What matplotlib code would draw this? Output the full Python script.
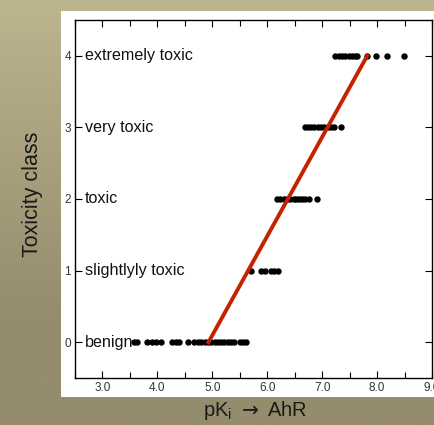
import numpy as np
import matplotlib
matplotlib.use("Agg")
from matplotlib import pyplot as plt
from matplotlib.patches import Rectangle
from matplotlib.ticker import MultipleLocator

plt.rcParams['font.family'] = ['Liberation Sans', 'DejaVu Sans']

# pK_i values per toxicity class
benign = [3.57, 3.62, 3.82, 3.90, 3.97, 4.07, 4.27, 4.33, 4.40, 4.55, 4.67,
          4.74, 4.80, 4.86, 4.92, 4.98, 5.04, 5.10, 5.16, 5.22, 5.28, 5.34,
          5.40, 5.50, 5.56, 5.62]
slightly_toxic = [5.71, 5.89, 5.96, 6.07, 6.13, 6.19]
toxic = [6.18, 6.24, 6.30, 6.36, 6.42, 6.48, 6.53, 6.58, 6.63, 6.68, 6.76, 6.91]
very_toxic = [6.68, 6.74, 6.80, 6.86, 6.92, 6.98, 7.04, 7.10, 7.16, 7.22, 7.35]
extremely_toxic = [7.24, 7.30, 7.36, 7.42, 7.48, 7.54, 7.60, 7.64, 7.82, 7.98, 8.18, 8.49]

groups = [benign, slightly_toxic, toxic, very_toxic, extremely_toxic]
class_names = ["benign", "slightlyly toxic", "toxic", "very toxic", "extremely toxic"]
fit_x = [4.93, 7.82]
fit_y = [0, 4]

fig = plt.figure(figsize=(4.35, 4.25), dpi=100)

# background gradient
bg = fig.add_axes([0, 0, 1, 1], zorder=-10)
grad = np.linspace(0, 1, 256).reshape(-1, 1)
top = np.array([188, 181, 142]) / 255
bot = np.array([148, 140, 108]) / 255
t = np.clip(grad / 0.75, 0, 1)
img = top * (1 - t[..., None]) + bot * t[..., None]
img = np.repeat(img, 2, axis=1)
bg.imshow(img, aspect='auto', extent=[0, 1, 0, 1], origin='upper')
bg.axis('off')

# white panel
fig.patches.append(Rectangle((61 / 435, 1 - 397 / 425), 1.0, 386 / 425,
                             transform=fig.transFigure, facecolor='white',
                             edgecolor='none', zorder=-5))

ax = fig.add_axes([75 / 435, 1 - 378 / 425, 357 / 435, 358 / 425])
ax.set_facecolor('white')

for k, xs in enumerate(groups):
    ax.plot(xs, [k] * len(xs), 'o', color='black', markersize=3.6, zorder=3)
    ax.text(2.68, k, class_names[k], va='center', ha='left', fontsize=11.6,
            color='#111111')

ax.plot(fit_x, fit_y, color='#c42300', linewidth=2.8, zorder=4)

ax.set_xlim(2.5, 9.0)
ax.set_ylim(-0.5, 4.5)
ax.xaxis.set_minor_locator(MultipleLocator(0.5))
ax.set_xticks([3, 4, 5, 6, 7, 8, 9])
ax.set_xticklabels(["3.0", "4.0", "5.0", "6.0", "7.0", "8.0", "9.0"])
ax.set_yticks([0, 1, 2, 3, 4])
ax.tick_params(axis='both', which='both', direction='in', top=True, right=True,
               labelsize=8.5, labelcolor='#333333', width=0.8)
ax.tick_params(axis='both', which='major', length=5)
ax.tick_params(axis='both', which='minor', length=4)
ax.tick_params(axis='y', pad=3)
ax.tick_params(axis='x', pad=3)
for s in ax.spines.values():
    s.set_linewidth(1.0)

fig.text(33 / 435, 1 - 194 / 425, "Toxicity class", rotation=90, ha='center',
         va='center', fontsize=15.5, color='#1a1a1a')
fig.text(255 / 435, 1 - 410 / 425, r"pK$_\mathregular{i}$ $\rightarrow$ AhR",
         ha='center', va='center', fontsize=14.5, color='#1a1a1a')

fig.savefig("out.png", dpi=100)
